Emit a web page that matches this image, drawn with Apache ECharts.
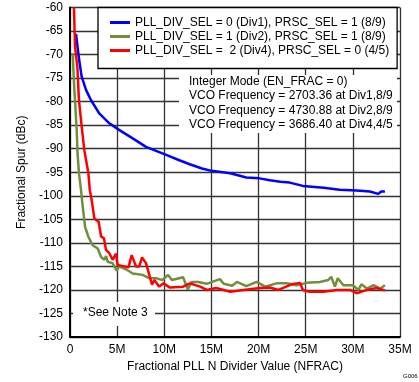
<!DOCTYPE html>
<html><head><meta charset="utf-8">
<script src="https://cdn.jsdelivr.net/npm/echarts@6/dist/echarts.min.js"></script>
<style>html,body{margin:0;padding:0;background:#fff}#c{width:419px;height:382px}</style>
</head><body><div id="c"></div>
<script>
const seriesNames = [
  'PLL_DIV_SEL = 0 (Div1), PRSC_SEL = 1 (8/9)',
  'PLL_DIV_SEL = 1 (Div2), PRSC_SEL = 1 (8/9)',
  'PLL_DIV_SEL =  2 (Div4), PRSC_SEL = 0 (4/5)'
];
const xTicks = [0, 5, 10, 15, 20, 25, 30, 35];
const nfracDiv1 = [0.64,0.75,0.88,1.0,1.24,1.7,2.23,3.1,4.17,5.2,6.65,8.06,10.2,11.66,12.7,14.0,15.0,17.0,18.7,20.1,21.2,22.3,23.3,24.7,26.9,28.6,30.4,31.8,32.7,33.0,33.4];
const spurDiv1  = [-65.6,-67.5,-69.7,-71.5,-74.7,-77.5,-79.7,-82.5,-84.6,-86.0,-87.8,-89.6,-91.3,-92.5,-93.3,-94.2,-94.7,-95.2,-96.1,-96.3,-96.7,-97.0,-97.2,-97.9,-98.3,-98.7,-98.9,-99.1,-99.6,-99.1,-99.1];
const nfracDiv2 = [0.28,0.46,0.53,0.71,0.8,0.95,1.17,1.35,1.6,1.95,2.4,2.94,3.3,3.65,3.82,4.0,4.5,4.95,5.2,5.94,6.65,7.7,8.4,9.1,9.8,10.4,10.8,12.0,12.5,12.9,13.6,14.5,15.9,16.3,17.2,17.7,18.7,19.8,20.7,21.9,23.0,24.0,25.1,26.5,27.4,27.7,28.1,28.4,29.0,30.0,30.6,30.9,31.5,32.2,32.9,33.4];
const spurDiv2  = [-69.7,-77.5,-79.7,-86,-91,-95.2,-98.8,-102.3,-106.6,-108.7,-110.5,-111.2,-113,-113.6,-112.8,-114,-114.3,-115.9,-115,-115.6,-116.5,-116.8,-117.5,-117.5,-117.9,-116.8,-117.9,-117.3,-119.9,-118.3,-118.3,-118.7,-117.7,-118.7,-119.1,-118.3,-119.2,-118.3,-119.3,-118.6,-118.6,-119,-118.5,-118.3,-117.9,-117.2,-119.3,-117.5,-119,-119,-120,-118.8,-119.7,-119,-119.7,-119];
const nfracDiv4 = [0.42,0.53,0.78,0.95,1.24,1.52,1.95,2.1,2.3,2.58,3.04,3.3,3.6,3.82,4.17,4.52,4.88,5.05,5.76,6.2,6.54,7.0,7.35,7.64,8.06,8.7,8.94,9.47,9.9,10.6,12.0,12.7,13.8,14.5,15.5,17.0,18.4,20.1,21.2,22.1,23.5,24.4,24.7,25.4,26.9,28.3,29.7,30.4,31.5,32.5,33.4];
const spurDiv4  = [-60,-68.3,-72.6,-79.7,-85.3,-90.3,-95.2,-98.8,-100.9,-104.8,-105.5,-108.7,-109,-111.5,-112.2,-113.6,-112.3,-114.7,-115,-115.2,-112.6,-115,-115,-113.1,-114.3,-118.9,-117.9,-119.3,-118.6,-119.5,-119.3,-118.6,-119.3,-120,-119.6,-120.4,-120,-119.6,-119.5,-120,-118.8,-118.5,-120,-120.4,-120.4,-120,-120,-120.7,-120,-119.6,-120.1];
const noteLines = ['Integer Mode (EN_FRAC = 0)','VCO Frequency = 2703.36 at Div1,8/9','VCO Frequency = 4730.88 at Div2,8/9','VCO Frequency = 3686.40 at Div4,4/5'];
const colors = ['#0000ff', '#708f3c', '#ff0000'];

const zip = (a, b) => a.map((v, i) => [v, b[i]]);
const font = 'Arial, "Liberation Sans", sans-serif';
const chart = echarts.init(document.getElementById('c'), null, {renderer: 'canvas'});
chart.setOption({
  animation: false,
  backgroundColor: '#fff',
  grid: {left: 70, right: 19, top: 7.5, bottom: 45, containLabel: false},
  xAxis: {
    type: 'value', min: 0, max: 35, interval: 5,
    name: 'Fractional PLL N Divider Value (NFRAC)', nameLocation: 'middle', nameGap: 21,
    nameTextStyle: {fontFamily: font, fontSize: 12, color: '#000'},
    axisLine: {show: true, onZero: false, lineStyle: {color: '#000', width: 2}},
    axisTick: {show: false},
    axisLabel: {margin: 7, fontFamily: font, fontSize: 12, color: '#000', formatter: v => v === 0 ? '0' : v + 'M'},
    splitLine: {show: true, lineStyle: {color: '#333', width: 1.3}}
  },
  yAxis: {
    type: 'value', min: -130, max: -60, interval: 5,
    name: 'Fractional Spur (dBc)', nameLocation: 'middle', nameGap: 34, nameRotate: 90,
    nameTextStyle: {fontFamily: font, fontSize: 12, color: '#000'},
    axisLine: {show: true, onZero: false, lineStyle: {color: '#000', width: 2}},
    axisTick: {show: false},
    axisLabel: {margin: 7, fontFamily: font, fontSize: 12, color: '#000'},
    splitLine: {show: true, lineStyle: {color: '#333', width: 1.3}}
  },
  legend: {
    orient: 'vertical', left: 98, top: 7.5,
    backgroundColor: '#fff', borderColor: '#000', borderWidth: 1.3,
    padding: [8, 8, 11, 12], itemGap: 0, itemWidth: 20, itemHeight: 3, icon: 'rect',
    itemTextGap: 10,
    textStyle: {fontFamily: font, fontSize: 12, color: '#000', lineHeight: 14},
    data: seriesNames
  },
  series: [
    {name: seriesNames[0], type: 'line', data: zip(nfracDiv1, spurDiv1), color: colors[0], symbol: 'none', lineStyle: {width: 2.5}, z: 3},
    {name: seriesNames[1], type: 'line', data: zip(nfracDiv2, spurDiv2), color: colors[1], symbol: 'none', lineStyle: {width: 2.5}, z: 3},
    {name: seriesNames[2], type: 'line', data: zip(nfracDiv4, spurDiv4), color: colors[2], symbol: 'none', lineStyle: {width: 2.5}, z: 3}
  ],
  graphic: [
    {type: 'rect', shape: {x: 179, y: 75, width: 218, height: 58}, style: {fill: '#fff'}, z: 10},
    {type: 'text', left: 189, top: 74, z: 11, style: {text: noteLines.join('\n'), font: '12px ' + font, lineHeight: 14.6, fill: '#000'}},
    {type: 'rect', shape: {x: 73, y: 302, width: 82, height: 24}, style: {fill: '#fff'}, z: 10},
    {type: 'text', left: 83, top: 307, z: 11, style: {text: '*See Note 3', font: '12px ' + font, fill: '#000'}},
    {type: 'text', left: 403, top: 373, z: 11, style: {text: 'G006', font: '6px ' + font, fill: '#000'}}
  ]
});
</script></body></html>
